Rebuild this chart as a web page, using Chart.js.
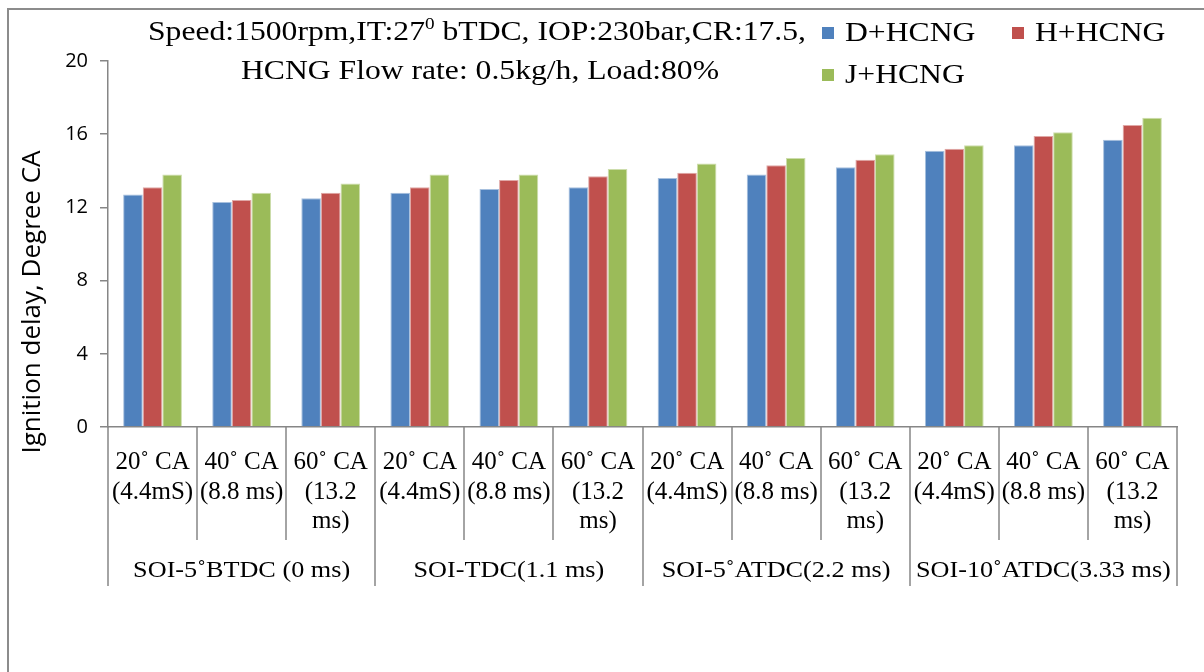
<!DOCTYPE html>
<html>
<head>
<meta charset="utf-8">
<script src="https://cdn.jsdelivr.net/npm/chart.js@4.4.1/dist/chart.umd.min.js"></script>
<style>
  body { margin: 0; background: #fff; }
</style>
</head>
<body>
<canvas id="chart" width="1204" height="672"></canvas>
<script>
// categories (inner level) and groups (outer level)
const tickLabels = [
    ['20˚ CA', '(4.4mS)'], ['40˚ CA', '(8.8 ms)'], ['60˚ CA', '(13.2', 'ms)'],
    ['20˚ CA', '(4.4mS)'], ['40˚ CA', '(8.8 ms)'], ['60˚ CA', '(13.2', 'ms)'],
    ['20˚ CA', '(4.4mS)'], ['40˚ CA', '(8.8 ms)'], ['60˚ CA', '(13.2', 'ms)'],
    ['20˚ CA', '(4.4mS)'], ['40˚ CA', '(8.8 ms)'], ['60˚ CA', '(13.2', 'ms)']
];
const groupLabels = ['SOI-5˚BTDC (0 ms)', 'SOI-TDC(1.1 ms)', 'SOI-5˚ATDC(2.2 ms)', 'SOI-10˚ATDC(3.33 ms)'];
const groupSize = 3;

// series
const seriesNames = ['D+HCNG', 'H+HCNG', 'J+HCNG'];
const dValues = [12.7, 12.3, 12.5, 12.8, 13.0, 13.1, 13.6, 13.8, 14.2, 15.1, 15.4, 15.7];
const hValues = [13.1, 12.4, 12.8, 13.1, 13.5, 13.7, 13.9, 14.3, 14.6, 15.2, 15.9, 16.5];
const jValues = [13.8, 12.8, 13.3, 13.8, 13.8, 14.1, 14.4, 14.7, 14.9, 15.4, 16.1, 16.9];

// axis / titles
const yTicks = [0, 4, 8, 12, 16, 20];
const yTitle = 'Ignition delay, Degree CA';
const titleLines = [
    'Speed:1500rpm,IT:27⁰ bTDC, IOP:230bar,CR:17.5,',
    'HCNG Flow rate: 0.5kg/h, Load:80%'
];

// styles
const colors = ['#4F81BD', '#C0504D', '#9BBB59'];
const edges = ['#A7C0DE', '#E0A8A6', '#CDDDAC'];
const legendSlots = [[822, 33], [1012, 33], [822, 75]];
const serif = '"Liberation Serif", "Times New Roman", serif';
const axisGray = '#868686';
const stretch = 1.13;

function wideText(ctx, text, x, y, sx, align) {
    ctx.save();
    ctx.translate(x, y);
    ctx.scale(sx, 1);
    ctx.textAlign = align;
    ctx.fillText(text, 0, 0);
    ctx.restore();
}

// title line, with the ⁰ drawn as a raised small 0
function titleText(ctx, text, cx, y, size) {
    const parts = text.split('⁰');
    const big = size + 'px ' + serif;
    const small = Math.round(size * 0.62) + 'px ' + serif;
    ctx.font = big;
    const widths = parts.map(p => ctx.measureText(p).width);
    ctx.font = small;
    const sup = ctx.measureText('0').width;
    const total = widths.reduce((a, b) => a + b, 0) + sup * (parts.length - 1);
    ctx.save();
    ctx.translate(cx - total * stretch / 2, y);
    ctx.scale(stretch, 1);
    ctx.textAlign = 'left';
    let pos = 0;
    parts.forEach((p, i) => {
        ctx.font = big;
        ctx.fillText(p, pos, 0);
        pos += widths[i];
        if (i < parts.length - 1) {
            ctx.font = small;
            ctx.fillText('0', pos, -size * 0.3);
            pos += sup;
        }
    });
    ctx.restore();
}

const decorations = {
    id: 'decorations',
    beforeDraw(chart) {
        const ctx = chart.ctx;
        ctx.save();
        ctx.strokeStyle = '#8c8c8c';
        ctx.lineWidth = 2;
        ctx.strokeRect(8, 9, 1400, 1000);
        ctx.restore();
    },
    afterDraw(chart) {
        const ctx = chart.ctx;
        const x = chart.scales.x;
        const area = chart.chartArea;
        const step = x.getPixelForValue(1) - x.getPixelForValue(0);

        ctx.save();
        // category dividers
        ctx.strokeStyle = axisGray;
        ctx.lineWidth = 1.5;
        for (let i = 0; i <= tickLabels.length; i++) {
            const px = Math.round(x.getPixelForValue(i) - step / 2);
            ctx.beginPath();
            ctx.moveTo(px, area.bottom);
            ctx.lineTo(px, i % groupSize === 0 ? 586 : 540);
            ctx.stroke();
        }

        // group labels
        ctx.fillStyle = '#000';
        ctx.textBaseline = 'middle';
        ctx.font = '23px ' + serif;
        groupLabels.forEach((g, k) => {
            const c = (x.getPixelForValue(k * groupSize) + x.getPixelForValue(k * groupSize + groupSize - 1)) / 2;
            wideText(ctx, g, c, 571, 1.14, 'center');
        });

        // y axis title
        ctx.save();
        ctx.translate(33, 302);
        ctx.rotate(-Math.PI / 2);
        ctx.font = '26px "Open Sans", sans-serif';
        ctx.textAlign = 'center';
        ctx.fillText(yTitle, 0, 0);
        ctx.restore();

        // title
        titleText(ctx, titleLines[0], 477, 33, 28);
        titleText(ctx, titleLines[1], 480, 72, 28);

        // legend
        ctx.font = '28px ' + serif;
        seriesNames.forEach((name, i) => {
            const [lx, ly] = legendSlots[i];
            ctx.fillStyle = colors[i];
            ctx.fillRect(lx, ly - 6, 12, 12);
            ctx.fillStyle = '#000';
            wideText(ctx, name, lx + 23, ly + 1, stretch, 'left');
        });
        ctx.restore();
    }
};

new Chart('chart', {
    type: 'bar',
    data: {
        labels: tickLabels,
        datasets: [dValues, hValues, jValues].map((vals, i) => ({
            label: seriesNames[i],
            data: vals,
            backgroundColor: colors[i],
            borderColor: edges[i],
            borderWidth: 1,
            borderSkipped: 'start',
            categoryPercentage: 0.66,
            barPercentage: 1.0
        }))
    },
    options: {
        responsive: false,
        animation: false,
        layout: { padding: { top: 61, right: 27, left: 0, bottom: 0 } },
        plugins: {
            legend: { display: false },
            title: { display: false },
            tooltip: { enabled: false }
        },
        scales: {
            x: {
                grid: { display: false, drawTicks: false },
                border: { display: true, color: axisGray, width: 1.5 },
                ticks: {
                    color: '#000',
                    padding: 21,
                    maxRotation: 0,
                    autoSkip: false,
                    font: { family: serif, size: 25, lineHeight: 1.18 }
                },
                afterFit(scale) { scale.height = 245; }
            },
            y: {
                min: 0,
                max: 20,
                afterBuildTicks(scale) { scale.ticks = yTicks.map(v => ({ value: v })); },
                grid: { drawOnChartArea: false, drawTicks: true, tickLength: 8, color: axisGray, lineWidth: 1.5 },
                border: { display: true, color: axisGray, width: 1.5 },
                ticks: {
                    color: '#000',
                    padding: 12,
                    font: { family: '"Open Sans", sans-serif', size: 20 }
                },
                afterFit(scale) { scale.width = 108; }
            }
        }
    },
    plugins: [decorations]
});
</script>
</body>
</html>
